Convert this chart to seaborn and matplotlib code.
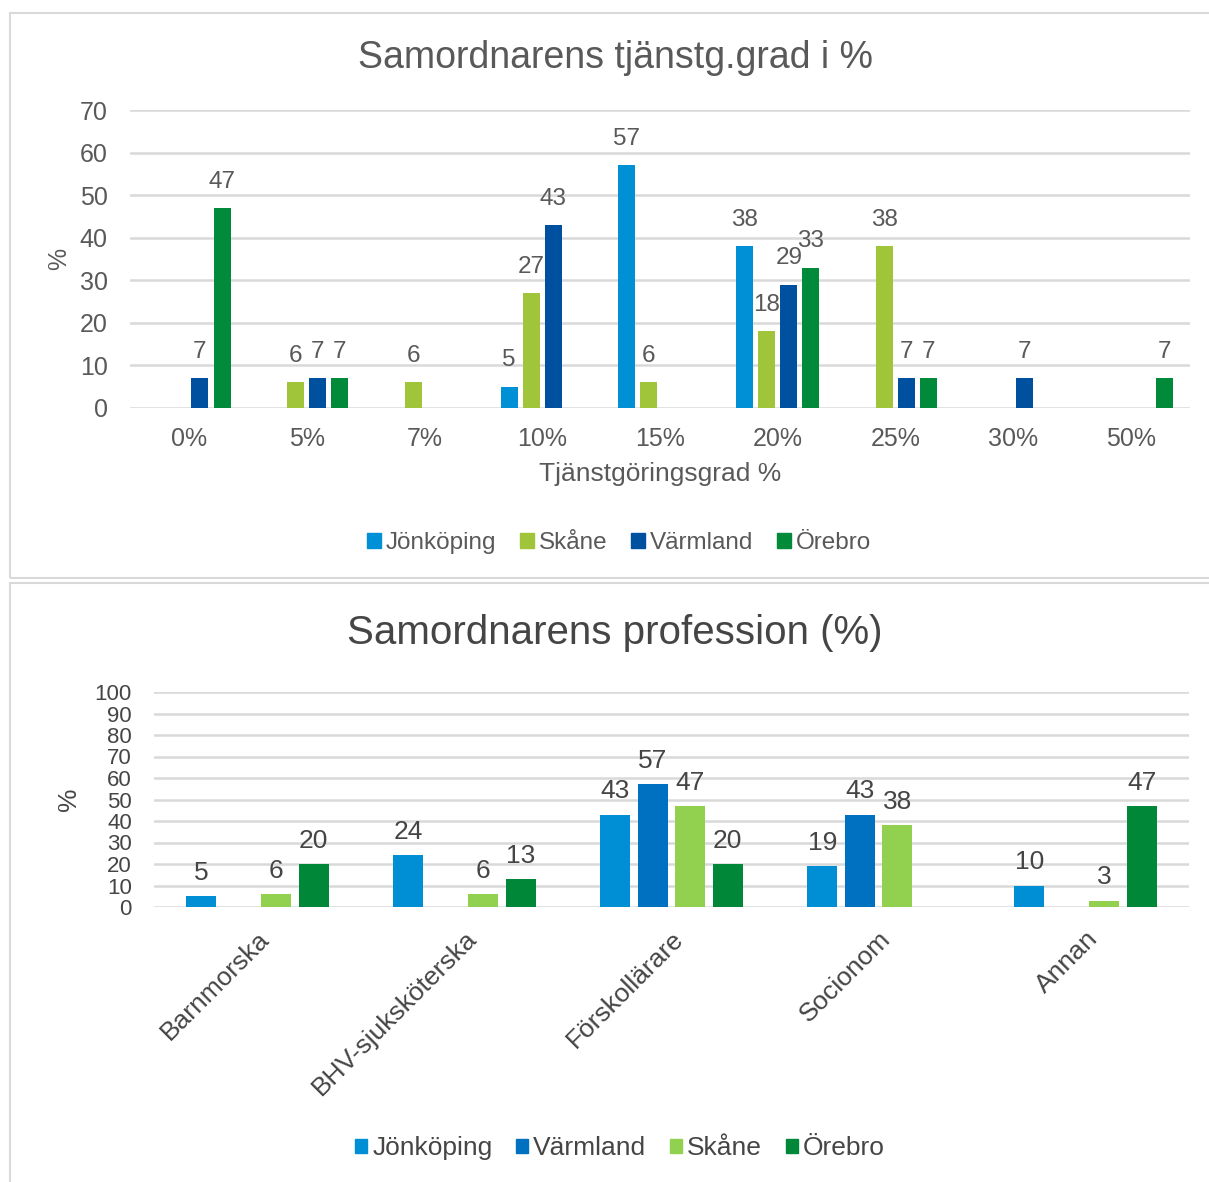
import numpy as np
import pandas as pd
import matplotlib
matplotlib.use("Agg")
import matplotlib.pyplot as plt
import seaborn as sns
from matplotlib.patches import Patch, Rectangle

# ---- data: top chart (tjänstgöringsgrad) ----
grad_cats = ['0%', '5%', '7%', '10%', '15%', '20%', '25%', '30%', '50%']
grad_regions = ['Jönköping', 'Skåne', 'Värmland', 'Örebro']
grad_jonkoping = [np.nan, np.nan, np.nan, 5, 57, 38, np.nan, np.nan, np.nan]
grad_skane = [np.nan, 6, 6, 27, 6, 18, 38, np.nan, np.nan]
grad_varmland = [7, 7, np.nan, 43, np.nan, 29, 7, 7, np.nan]
grad_orebro = [47, 7, np.nan, np.nan, np.nan, 33, 7, np.nan, 7]

# ---- data: bottom chart (profession) ----
prof_cats = ['Barnmorska', 'BHV-sjuksköterska', 'Förskollärare', 'Socionom', 'Annan']
prof_regions = ['Jönköping', 'Värmland', 'Skåne', 'Örebro']
prof_jonkoping = [5, 24, 43, 19, 10]
prof_varmland = [np.nan, np.nan, 57, 43, np.nan]
prof_skane = [6, 6, 47, 38, 3]
prof_orebro = [20, 13, 20, np.nan, 47]

top_colors = {'Jönköping': '#0090D6', 'Skåne': '#A0C43A', 'Värmland': '#0050A0', 'Örebro': '#008A3A'}
bot_colors = {'Jönköping': '#008FD5', 'Värmland': '#0070C0', 'Skåne': '#92D050', 'Örebro': '#008838'}

sns.set_style('white')
plt.rcParams['font.family'] = ['Liberation Sans', 'DejaVu Sans']
txt = '#595959'
txt2 = '#454545'

W, H = 1209, 1182
fig = plt.figure(figsize=(W / 100, H / 100), dpi=100)

def fx(px):
    return px / W

def fy(py):
    return 1 - py / H

# panel frames
fig.patches.append(Rectangle((fx(10), fy(578)), fx(1215) - fx(10), fy(13) - fy(578),
                             transform=fig.transFigure, fill=False, edgecolor='#D9D9D9', lw=1.5))
fig.patches.append(Rectangle((fx(10), fy(1190)), fx(1215) - fx(10), fy(583) - fy(1190),
                             transform=fig.transFigure, fill=False, edgecolor='#D9D9D9', lw=1.5))

def long_df(cats, regions, series):
    rows = []
    for reg, vals in zip(regions, series):
        for c, v in zip(cats, vals):
            rows.append({'cat': c, 'region': reg, 'value': v})
    return pd.DataFrame(rows).dropna()

# ---- top chart ----
df1 = long_df(grad_cats, grad_regions, [grad_jonkoping, grad_skane, grad_varmland, grad_orebro])
ax1 = fig.add_axes([fx(130), fy(408), fx(1190) - fx(130), fy(110) - fy(408)])
sns.barplot(data=df1, x='cat', y='value', hue='region', order=grad_cats, hue_order=grad_regions,
            palette=top_colors, saturation=1, width=0.75, gap=0.23, ax=ax1, legend=False,
            linewidth=0, errorbar=None)
ax1.set_ylim(0, 70)
ax1.set_yticks(range(0, 71, 10))
ax1.grid(axis='y', color='#D9D9D9', lw=1.8)
ax1.set_axisbelow(True)
for s in ax1.spines.values():
    s.set_visible(False)
ax1.tick_params(axis='both', length=0, labelsize=18, labelcolor=txt)
ax1.tick_params(axis='x', pad=14)
ax1.tick_params(axis='y', pad=16)
ax1.set_xlabel('')
ax1.set_ylabel('%', fontsize=18, color=txt, labelpad=6)
for cont in ax1.containers:
    ax1.bar_label(cont, fmt='%.0f', fontsize=17.5, color=txt, padding=11)

fig.text(fx(615), fy(58), 'Samordnarens tjänstg.grad i %', fontsize=27, color=txt, ha='center', va='center')
fig.text(fx(660), fy(474), 'Tjänstgöringsgrad %', fontsize=19, color=txt, ha='center', va='center')
h1 = [Patch(color=top_colors[r]) for r in grad_regions]
fig.legend(h1, grad_regions, loc='center', bbox_to_anchor=(fx(619), fy(543)), ncol=4, frameon=False,
           fontsize=17.5, labelcolor=txt, handlelength=0.55, handleheight=0.55, handletextpad=0.2,
           columnspacing=1.0)

# ---- bottom chart ----
df2 = long_df(prof_cats, prof_regions, [prof_jonkoping, prof_varmland, prof_skane, prof_orebro])
ax2 = fig.add_axes([fx(154), fy(907), fx(1189) - fx(154), fy(692) - fy(907)])
sns.barplot(data=df2, x='cat', y='value', hue='region', order=prof_cats, hue_order=prof_regions,
            palette=bot_colors, saturation=1, width=0.725, gap=0.2, ax=ax2, legend=False,
            linewidth=0, errorbar=None)
ax2.set_ylim(0, 100)
ax2.set_yticks(range(0, 101, 10))
ax2.grid(axis='y', color='#D9D9D9', lw=1.8)
ax2.set_axisbelow(True)
for s in ax2.spines.values():
    s.set_visible(False)
ax2.tick_params(axis='both', length=0, labelcolor=txt2)
ax2.tick_params(axis='y', pad=16, labelsize=16)
ax2.tick_params(axis='x', pad=14)
ax2.set_xticks(range(len(prof_cats)))
ax2.set_xticklabels(prof_cats, rotation=45, ha='right', rotation_mode='anchor',
                    fontsize=19, color=txt2)
ax2.set_xlabel('')
ax2.set_ylabel('%', fontsize=19, color=txt2, labelpad=10)
for cont in ax2.containers:
    ax2.bar_label(cont, fmt='%.0f', fontsize=19, color=txt2, padding=8)

fig.text(fx(615), fy(633), 'Samordnarens profession (%)', fontsize=29, color=txt2, ha='center', va='center')
h2 = [Patch(color=bot_colors[r]) for r in prof_regions]
fig.legend(h2, prof_regions, loc='center', bbox_to_anchor=(fx(620), fy(1148)), ncol=4, frameon=False,
           fontsize=19, labelcolor=txt2, handlelength=0.45, handleheight=0.45,
           handletextpad=0.2, columnspacing=0.9)

plt.savefig('out.png', dpi=100)
